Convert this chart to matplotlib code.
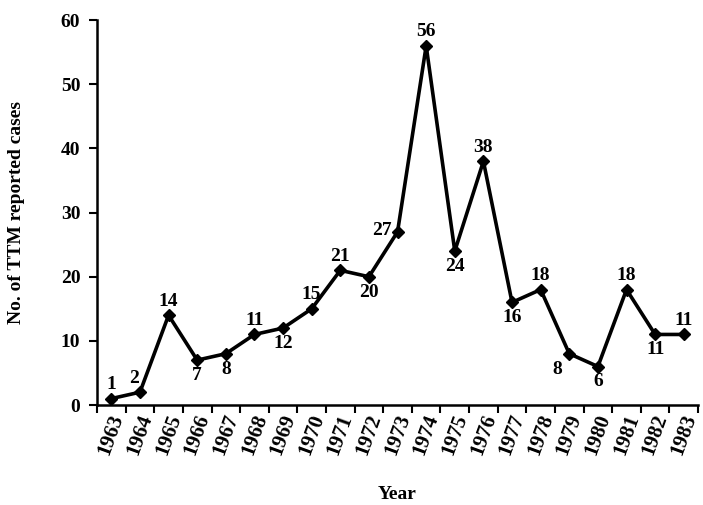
import matplotlib
matplotlib.use("Agg")
import matplotlib.pyplot as plt
import numpy as np

years = [str(y) for y in range(1963, 1984)]
cases = [1, 2, 14, 7, 8, 11, 12, 15, 21, 20, 27, 56, 24, 38, 16, 18, 8, 6, 18, 11, 11]
# label placement: 'a' above, 'b' below, 'l' left, 'bl' below-left, 'al' above-left
placement = ['a', 'al', 'a', 'b', 'b', 'a', 'b', 'a', 'a', 'b', 'l', 'a', 'b', 'a', 'b', 'a', 'bl', 'b', 'a', 'b', 'a']

plt.rcParams['font.family'] = ['Liberation Serif', 'DejaVu Serif']
plt.rcParams['font.weight'] = 'bold'

fig = plt.figure(figsize=(7.03, 5.05), dpi=100)
ax = fig.add_axes([0.138, 0.198, 0.855, 0.762])

x = np.arange(len(years))
ax.plot(x, cases, color='black', lw=2.6, marker='D', ms=6.5, mfc='black', mec='black')

fs = 14
for xi, v, p in zip(x, cases, placement):
    if p == 'a':
        ax.annotate(str(v), (xi, v), xytext=(0, 4), textcoords='offset points',
                    ha='center', va='bottom', fontsize=fs, fontweight='bold')
    elif p == 'al':
        ax.annotate(str(v), (xi, v), xytext=(-4, 4), textcoords='offset points',
                    ha='center', va='bottom', fontsize=fs, fontweight='bold')
    elif p == 'b':
        ax.annotate(str(v), (xi, v), xytext=(0, -5), textcoords='offset points',
                    ha='center', va='top', fontsize=fs, fontweight='bold')
    elif p == 'l':
        ax.annotate(str(v), (xi, v), xytext=(-4, 1), textcoords='offset points',
                    ha='right', va='center', fontsize=fs, fontweight='bold')
    elif p == 'bl':
        ax.annotate(str(v), (xi, v), xytext=(-5, -5), textcoords='offset points',
                    ha='right', va='top', fontsize=fs, fontweight='bold')

ax.set_xlim(-0.5, len(years) - 0.5)
ax.set_ylim(0, 60)
ax.set_yticks(range(0, 61, 10))
ax.set_xticks(np.arange(-0.5, len(years) + 0.5, 1.0))
ax.set_xticklabels([])
ax.set_xticks(x, minor=True)
ax.set_xticklabels(years, minor=True, rotation=70, fontsize=15, fontweight='bold')
ax.tick_params(axis='x', which='minor', length=0, pad=5)
ax.tick_params(axis='x', which='major', length=6, width=1.5, direction='out')
ax.tick_params(axis='y', length=6, width=1.5, direction='out', labelsize=fs, pad=6)
for lab in ax.get_yticklabels():
    lab.set_fontweight('bold')

for s in ['top', 'right']:
    ax.spines[s].set_visible(False)
for s in ['left', 'bottom']:
    ax.spines[s].set_linewidth(1.8)

ax.set_ylabel('No. of TTM reported cases', fontsize=14, fontweight='bold', labelpad=26)
ax.set_xlabel('Year', fontsize=14, fontweight='bold', labelpad=20)

fig.savefig('out.png', dpi=100)
